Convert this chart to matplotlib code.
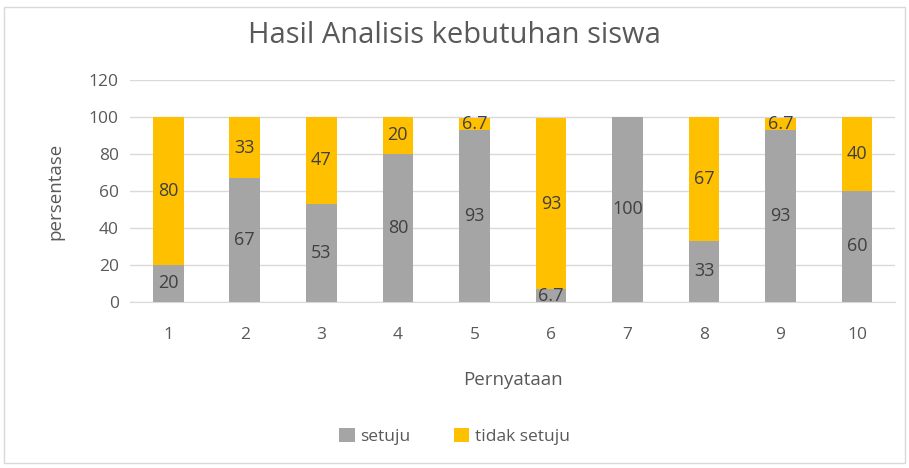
import matplotlib
matplotlib.use("Agg")
import matplotlib.pyplot as plt
from matplotlib.patches import Rectangle

categories = ["1", "2", "3", "4", "5", "6", "7", "8", "9", "10"]
setuju = [20, 67, 53, 80, 93, 6.7, 100, 33, 93, 60]
tidak_setuju = [80, 33, 47, 20, 6.7, 93, 0, 67, 6.7, 40]
setuju_labels = ["20", "67", "53", "80", "93", "6.7", "100", "33", "93", "60"]
tidak_labels = ["80", "33", "47", "20", "6.7", "93", "", "67", "6.7", "40"]
yticks = [0, 20, 40, 60, 80, 100, 120]

plt.rcParams['font.family'] = ['Open Sans', 'DejaVu Sans']
txt = "#595959"

fig = plt.figure(figsize=(9.09, 4.68), dpi=100)
fig.patches.append(Rectangle((0.004, 0.01), 0.992, 0.975, transform=fig.transFigure,
                             fill=False, edgecolor="#D9D9D9", linewidth=1))
ax = fig.add_axes([0.143, 0.355, 0.842, 0.474])

x = list(range(1, len(categories) + 1))
ax.bar(x, setuju, width=0.4, color="#A5A5A5", label="setuju", zorder=3)
ax.bar(x, tidak_setuju, width=0.4, bottom=setuju, color="#FFC000", label="tidak setuju", zorder=3)

for xi, s, t, sl, tl in zip(x, setuju, tidak_setuju, setuju_labels, tidak_labels):
    ax.text(xi, s / 2, sl, ha="center", va="center", fontsize=13, color="#404040", zorder=4)
    if tl:
        ax.text(xi, s + t / 2, tl, ha="center", va="center", fontsize=13, color="#404040", zorder=4)

ax.set_xlim(0.5, 10.5)
ax.set_ylim(0, 120)
ax.set_yticks(yticks)
ax.set_xticks(x)
ax.set_xticklabels(categories)
ax.grid(axis="y", color="#D9D9D9", linewidth=1, zorder=0)
for sp in ["top", "right", "left"]:
    ax.spines[sp].set_visible(False)
ax.spines["bottom"].set_color("#D9D9D9")
ax.tick_params(axis="y", length=0, labelsize=12.5, colors=txt, pad=8)
ax.tick_params(axis="x", length=0, labelsize=12.5, colors=txt, pad=18)
ax.set_xlabel("Pernyataan", fontsize=13.5, color=txt, labelpad=20)
ax.set_ylabel("persentase", fontsize=13.5, color=txt, labelpad=18)

fig.text(0.5, 0.925, "Hasil Analisis kebutuhan siswa", ha="center", va="center", fontsize=21, color=txt)
fig.legend(loc="center", bbox_to_anchor=(0.5, 0.068), ncol=2, frameon=False, fontsize=12.5,
           labelcolor=txt, handlelength=0.9, handleheight=0.9, handletextpad=0.3, columnspacing=2.5)

fig.savefig("out.png", dpi=100)
